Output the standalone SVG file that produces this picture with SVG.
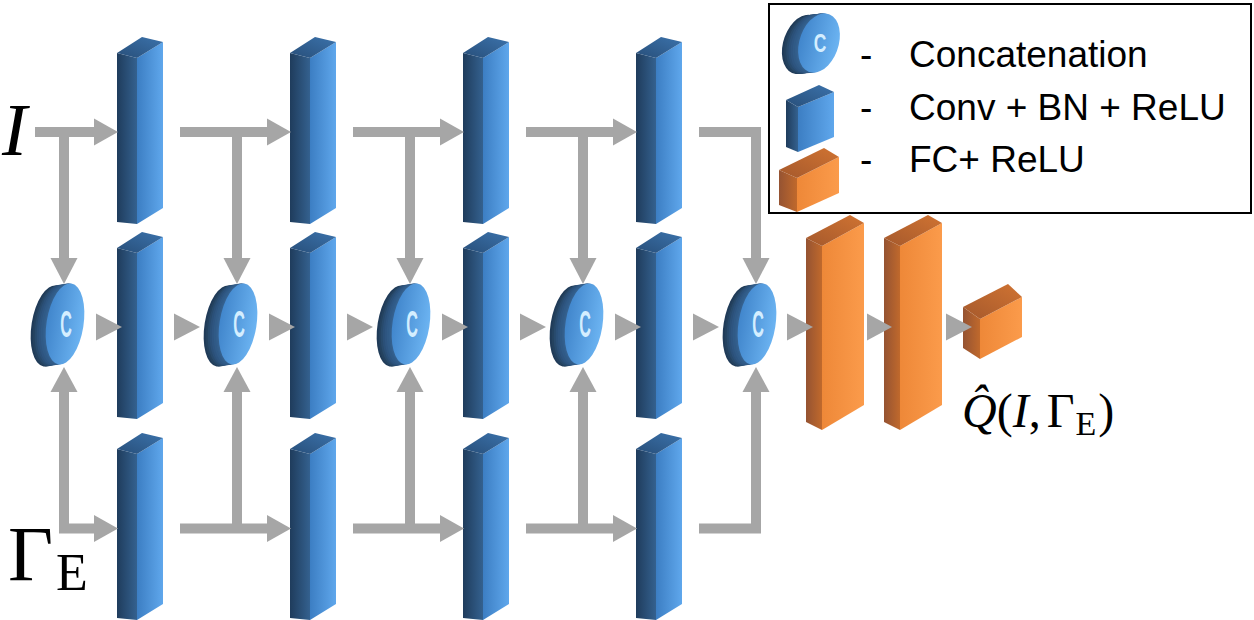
<svg xmlns="http://www.w3.org/2000/svg" xmlns:xlink="http://www.w3.org/1999/xlink" width="1254" height="620" viewBox="0 0 1254 620">
<defs>
<style>
.bs{fill:url(#gBs)} .bf{fill:url(#gBf)} .bt{fill:url(#gBt)}
.os{fill:url(#gOs)} .of{fill:url(#gOf)} .ot{fill:url(#gOt)}
.ln{fill:none;stroke:#a6a6a6;stroke-width:10;stroke-linejoin:miter;stroke-linecap:butt}
.ah{fill:#a6a6a6}
.leg{font-family:"Liberation Sans",Arial,sans-serif;font-size:37px;fill:#000}
.ser{font-family:"Liberation Serif","Times New Roman",serif;fill:#000}
</style>
<linearGradient id="gBs" x1="0" y1="0" x2="1" y2="0"><stop offset="0" stop-color="#1f3c5c"/><stop offset="1" stop-color="#34618f"/></linearGradient>
<linearGradient id="gBf" x1="0" y1="0" x2="1" y2="0"><stop offset="0" stop-color="#3c7ec3"/><stop offset="1" stop-color="#5fa7ec"/></linearGradient>
<linearGradient id="gBt" x1="0" y1="1" x2="1" y2="0"><stop offset="0" stop-color="#284f7a"/><stop offset="1" stop-color="#3b72ab"/></linearGradient>
<linearGradient id="gOs" x1="0" y1="0" x2="1" y2="0"><stop offset="0" stop-color="#955332"/><stop offset="1" stop-color="#c0692c"/></linearGradient>
<linearGradient id="gOf" x1="0" y1="0" x2="1" y2="0"><stop offset="0" stop-color="#ee8838"/><stop offset="1" stop-color="#fb9b4b"/></linearGradient>
<linearGradient id="gOt" x1="0" y1="1" x2="1" y2="0"><stop offset="0" stop-color="#a5592c"/><stop offset="1" stop-color="#d07332"/></linearGradient>
<linearGradient id="gCf" x1="0" y1="0" x2="1" y2="0"><stop offset="0" stop-color="#4186cc"/><stop offset="1" stop-color="#6cb4f2"/></linearGradient>
<g id="blk">
<polygon class="bs" points="0,16 20,21 20,187 0,185"/>
<polygon class="bf" points="20,21 46,5 46,171 20,187"/>
<polygon class="bt" points="0,16 25,0 46,5 20,21"/>
</g>
<g id="fcT">
<polygon class="os" points="0,23 16,31 16,215 0,207"/>
<polygon class="of" points="16,31 58,8 58,190 16,215"/>
<polygon class="ot" points="0,23 44,0 58,8 16,31"/>
</g>
<ellipse id="disc" cx="0" cy="0" rx="18.5" ry="41" transform="rotate(9)"/>
<g id="cyl">
<use xlink:href="#disc" x="-15" y="2" fill="#203b58"/>
<use xlink:href="#disc" x="-13" y="2" fill="#24425f"/>
<use xlink:href="#disc" x="-11" y="1.5" fill="#284a6c"/>
<use xlink:href="#disc" x="-9" y="1" fill="#2b5078"/>
<use xlink:href="#disc" x="-7" y="1" fill="#2e5580"/>
<use xlink:href="#disc" x="-5" y="0.5" fill="#305a86"/>
<use xlink:href="#disc" x="-3" y="0" fill="#325d8a"/>
<use xlink:href="#disc" x="-1.5" y="0" fill="#35618f"/>
<use xlink:href="#disc" x="0" y="0" fill="url(#gCf)"/>
<text x="0" y="0" transform="translate(1,13) scale(0.45,1)" text-anchor="middle" font-family="Liberation Sans, Arial, sans-serif" font-size="36" font-weight="bold" fill="#d4eeff">C</text>
</g>
</defs>
<rect x="0" y="0" width="1254" height="620" fill="#ffffff"/>

<g id="legend">
<rect x="769" y="4" width="482" height="209" fill="#ffffff" stroke="#000000" stroke-width="2"/>
<g id="legend-concat"><use xlink:href="#cyl" transform="translate(819,43) scale(1.08,0.73)"/></g>
<g id="legend-conv">
<polygon class="bs" points="786,100 798,107 798,152 786,147"/>
<polygon class="bf" points="798,107 834,92 834,137 798,152"/>
<polygon class="bt" points="786,100 819,85 834,92 798,107"/>
</g>
<g id="legend-fc">
<polygon class="os" points="779,170 797,178 797,212 779,205"/>
<polygon class="of" points="797,178 839,157 839,193 797,212"/>
<polygon class="ot" points="779,170 824,148 839,157 797,178"/>
</g>
<text class="leg" x="860" y="67">-</text>
<text class="leg" x="860" y="120">-</text>
<text class="leg" x="860" y="172">-</text>
<text class="leg" x="909" y="67">Concatenation</text>
<text class="leg" x="909" y="120">Conv + BN + ReLU</text>
<text class="leg" x="909" y="172">FC+ ReLU</text>
</g>

<g id="conv-top-1"><use xlink:href="#blk" x="117" y="37"/></g>
<g id="conv-top-2"><use xlink:href="#blk" x="290" y="37"/></g>
<g id="conv-top-3"><use xlink:href="#blk" x="463" y="37"/></g>
<g id="conv-top-4"><use xlink:href="#blk" x="636" y="37"/></g>
<g id="conv-mid-1"><use xlink:href="#blk" x="117" y="232"/></g>
<g id="conv-mid-2"><use xlink:href="#blk" x="290" y="232"/></g>
<g id="conv-mid-3"><use xlink:href="#blk" x="463" y="232"/></g>
<g id="conv-mid-4"><use xlink:href="#blk" x="636" y="232"/></g>
<g id="conv-bot-1"><use xlink:href="#blk" x="117" y="433"/></g>
<g id="conv-bot-2"><use xlink:href="#blk" x="290" y="433"/></g>
<g id="conv-bot-3"><use xlink:href="#blk" x="463" y="433"/></g>
<g id="conv-bot-4"><use xlink:href="#blk" x="636" y="433"/></g>

<g id="concat-1"><use xlink:href="#cyl" x="65" y="324"/></g>
<g id="concat-2"><use xlink:href="#cyl" x="238" y="324"/></g>
<g id="concat-3"><use xlink:href="#cyl" x="411" y="324"/></g>
<g id="concat-4"><use xlink:href="#cyl" x="584" y="324"/></g>
<g id="concat-5"><use xlink:href="#cyl" x="757" y="324"/></g>

<g id="fc-1"><use xlink:href="#fcT" x="806" y="215"/></g>
<g id="fc-2"><use xlink:href="#fcT" x="884" y="215"/></g>
<g id="fc-3">
<polygon class="os" points="963,307 980,319 980,359 963,348"/>
<polygon class="of" points="980,319 1022,297 1022,337 980,359"/>
<polygon class="ot" points="963,307 1008,284 1022,297 980,319"/>
</g>

<g id="connectors">
<path class="ln" d="M35,132 H96 M64,132 V260 M180,132 H269 M237,132 V260 M353,132 H442 M410,132 V260 M526,132 H615 M583,132 V260 M699,132 H756 V260"/>
<path class="ln" d="M64,390 V528.5 H96 M180,528.5 H269 M237,528.5 V390 M353,528.5 H442 M410,528.5 V390 M526,528.5 H615 M583,528.5 V390 M699,528.5 H756 V390"/>
<polygon class="ah" points="118,132 94,118.5 94,145.5"/>
<polygon class="ah" points="291,132 267,118.5 267,145.5"/>
<polygon class="ah" points="464,132 440,118.5 440,145.5"/>
<polygon class="ah" points="637,132 613,118.5 613,145.5"/>
<polygon class="ah" points="118,528.5 94,515 94,542"/>
<polygon class="ah" points="291,528.5 267,515 267,542"/>
<polygon class="ah" points="464,528.5 440,515 440,542"/>
<polygon class="ah" points="637,528.5 613,515 613,542"/>
<polygon class="ah" points="64,284 50.5,258 77.5,258"/>
<polygon class="ah" points="237,284 223.5,258 250.5,258"/>
<polygon class="ah" points="410,284 396.5,258 423.5,258"/>
<polygon class="ah" points="583,284 569.5,258 596.5,258"/>
<polygon class="ah" points="756,284 742.5,258 769.5,258"/>
<polygon class="ah" points="64,367 50.5,392 77.5,392"/>
<polygon class="ah" points="237,367 223.5,392 250.5,392"/>
<polygon class="ah" points="410,367 396.5,392 423.5,392"/>
<polygon class="ah" points="583,367 569.5,392 596.5,392"/>
<polygon class="ah" points="756,367 742.5,392 769.5,392"/>
<polygon class="ah" points="122,327 96,313.5 96,340.5"/>
<polygon class="ah" points="295,327 269,313.5 269,340.5"/>
<polygon class="ah" points="468,327 442,313.5 442,340.5"/>
<polygon class="ah" points="641,327 615,313.5 615,340.5"/>
<polygon class="ah" points="200,327 174,313.5 174,340.5"/>
<polygon class="ah" points="373,327 347,313.5 347,340.5"/>
<polygon class="ah" points="546,327 520,313.5 520,340.5"/>
<polygon class="ah" points="719,327 693,313.5 693,340.5"/>
<polygon class="ah" points="813,327 787,313.5 787,340.5"/>
<polygon class="ah" points="892,327 867,313.5 867,340.5"/>
<polygon class="ah" points="972,327 946,313.5 946,340.5"/>
</g>

<g id="labels">
<text class="ser" x="2" y="155" font-size="75" font-style="italic">I</text>
<text class="ser" x="8" y="580" font-size="78">Γ</text>
<text class="ser" x="56" y="590" font-size="52">E</text>
<text class="ser" x="962" y="427" font-size="48"><tspan font-style="italic">Q̂</tspan>(<tspan font-style="italic">I</tspan>,<tspan dx="6">Γ</tspan><tspan dx="1" dy="8" font-size="34">E</tspan><tspan dx="2" dy="-8">)</tspan></text>
</g>
</svg>
